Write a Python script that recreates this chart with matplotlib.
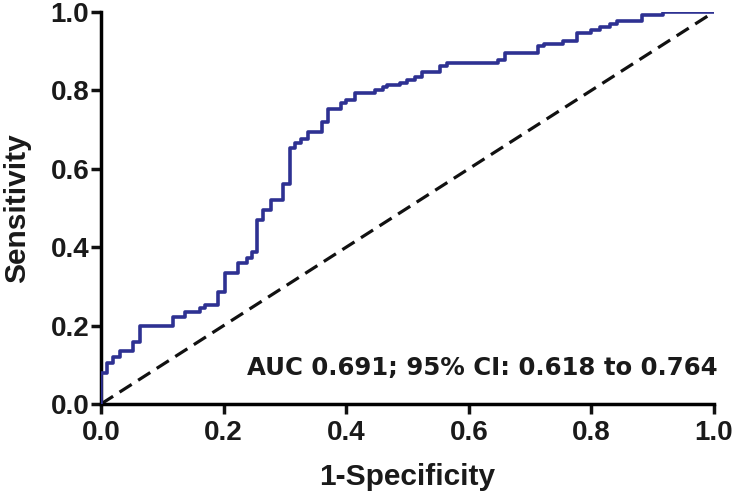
import matplotlib
matplotlib.use("Agg")
import matplotlib.pyplot as plt

# ==========================================
# DATA
# ==========================================

fpr = [
    0.0, 0.009, 0.020, 0.031, 0.052, 0.064, 0.118, 0.137, 0.162, 0.170,
    0.191, 0.202, 0.224, 0.238, 0.246, 0.254, 0.265, 0.278, 0.297, 0.308,
    0.316, 0.327, 0.338, 0.360, 0.371, 0.392, 0.400, 0.414, 0.447, 0.460,
    0.466, 0.488, 0.499, 0.512, 0.523, 0.553, 0.564, 0.648, 0.659, 0.713,
    0.722, 0.754, 0.776, 0.800, 0.814, 0.830, 0.841, 0.882, 0.917, 1.0
]

tpr = [
    0.079, 0.105, 0.120, 0.136, 0.159, 0.200, 0.221, 0.234, 0.245, 0.253,
    0.285, 0.335, 0.359, 0.372, 0.389, 0.469, 0.495, 0.520, 0.561, 0.652,
    0.667, 0.676, 0.695, 0.720, 0.752, 0.769, 0.776, 0.794, 0.801, 0.808,
    0.813, 0.818, 0.827, 0.835, 0.846, 0.861, 0.869, 0.878, 0.895, 0.912,
    0.918, 0.927, 0.946, 0.954, 0.962, 0.969, 0.977, 0.992, 1.0, 1.0
]

ref_line = [0.0, 1.0]

ticks = [0.0, 0.2, 0.4, 0.6, 0.8, 1.0]
tick_labels = ["0.0", "0.2", "0.4", "0.6", "0.8", "1.0"]

auc_text = "AUC 0.691; 95% CI: 0.618 to 0.764"

# ==========================================
# PLOT
# ==========================================

fig = plt.figure(figsize=(7.35, 4.97), dpi=100)
ax = fig.add_axes([0.1374, 0.1871, 0.834, 0.7888])

ax.plot(
    ref_line,
    ref_line,
    color="#111111",
    linestyle=(0, (4.5, 2.4)),
    linewidth=2.3,
    zorder=2
)

ax.plot(
    [0.0] + fpr,
    [0.0] + tpr,
    drawstyle="steps-post",
    color="#2E3192",
    linewidth=2.6,
    zorder=3
)

ax.set_xlim(0, 1)
ax.set_ylim(0, 1)

ax.spines["top"].set_visible(False)
ax.spines["right"].set_visible(False)
ax.spines["left"].set_linewidth(2.5)
ax.spines["bottom"].set_linewidth(2.5)

ax.set_xticks(ticks)
ax.set_yticks(ticks)
ax.set_xticklabels(tick_labels)
ax.set_yticklabels(tick_labels)

ax.tick_params(
    direction="out",
    length=7,
    width=2.5,
    colors="#111111"
)
ax.tick_params(axis="x", pad=4.5)
ax.tick_params(axis="y", pad=1.5)

for lab in ax.get_xticklabels() + ax.get_yticklabels():
    lab.set_fontfamily("Liberation Sans")
    lab.set_fontweight("bold")
    lab.set_fontsize(20)
    lab.set_color("#1a1a1a")

ax.set_xlabel(
    "1-Specificity",
    fontfamily="Liberation Sans",
    fontweight="bold",
    fontsize=21.5,
    labelpad=12,
    color="#1a1a1a"
)

ax.set_ylabel(
    "Sensitivity",
    fontfamily="Liberation Sans",
    fontweight="bold",
    fontsize=21.5,
    labelpad=14,
    color="#1a1a1a"
)

ax.text(
    0.238,
    0.092,
    auc_text,
    fontfamily="DejaVu Sans",
    fontweight="bold",
    fontsize=17.6,
    va="center",
    ha="left",
    color="#1a1a1a"
)

for s in ax.spines.values():
    s.set_clip_on(False)

fig.savefig("out.png", dpi=100)
plt.close(fig)
